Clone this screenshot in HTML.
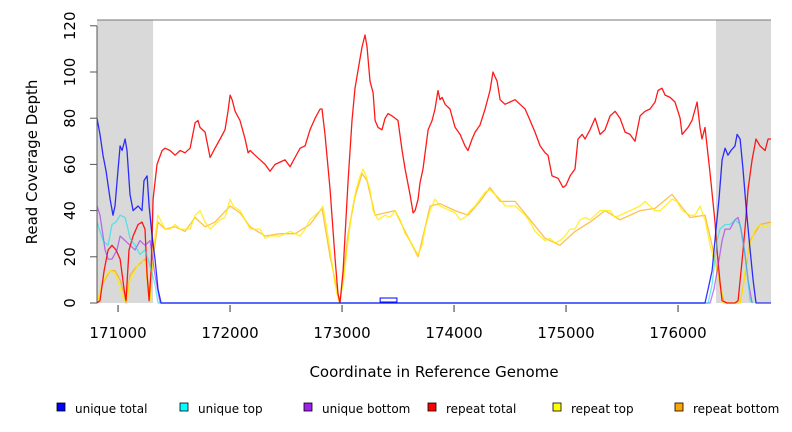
<!DOCTYPE html>
<html><head><meta charset="utf-8"><style>
html,body{margin:0;padding:0;background:#fff;}
svg{display:block;font-family:"DejaVu Sans","Liberation Sans",sans-serif;}
</style></head><body>
<svg id="chart" width="792" height="432" viewBox="0 0 792 432">
<g id="plot"></g>
<g id="axes"></g>
<text x="434" y="377" font-size="15" text-anchor="middle" fill="#000">Coordinate in Reference Genome</text>
<text x="0" y="0" font-size="15" text-anchor="middle" fill="#000" transform="translate(37,162) rotate(-90)">Read Coverage Depth</text>
<g id="legend"></g>
</svg>
<script>
const NS="http://www.w3.org/2000/svg";
const xTicks=[171000,172000,173000,174000,175000,176000];
const yTicks=[0,20,40,60,80,100,120];
const shadedRegions=[[170812,171313],[176339,176830]];
const legendLabels=["unique total","unique top","unique bottom","repeat total","repeat top","repeat bottom"];
const legendColors=["#0000ff","#00ffff","#a020f0","#ff0000","#ffff00","#ffa500"];

const blueX=[170812,170839,170866,170893,170929,170955,170973,171000,171018,171036,171063,171080,171107,171134,171179,171214,171232,171259,171277,171304,171330,171357,171384,176241,176268,176304,176339,176366,176393,176420,176446,176473,176509,176527,176554,176580,176607,176643,176670,176696,176830];
const blueY=[80,73,64,57,45,38,42,58,68,66,71,66,47,40,42,40,53,55,42,29,19,6,0,0,6,14,32,45,62,67,64,66,68,73,71,58,42,23,10,0,0];

const cyanX=[170812,170866,170911,170946,170982,171018,171063,171089,171107,171152,171196,171241,171286,171330,171357,176268,176304,176348,176375,176420,176464,176509,176554,176580,176616,176643,176670];
const cyanY=[35,27,25,34,35,38,37,32,28,25,21,23,16,8,0,0,8,27,32,34,34,36,34,27,14,1,0];

const purpleX=[170812,170839,170884,170911,170946,170991,171018,171063,171107,171152,171196,171241,171286,171330,171375,176286,176321,176357,176393,176420,176464,176509,176536,176562,176598,176625,176661];
const purpleY=[42,38,23,19,19,23,29,27,25,23,27,25,27,12,0,0,6,16,27,32,32,36,37,32,21,10,0];

const redX=[170812,170839,170875,170911,170946,170982,171018,171054,171071,171098,171134,171179,171214,171241,171259,171277,171295,171313,171348,171393,171420,171464,171509,171554,171598,171643,171688,171714,171732,171777,171822,171866,171911,171955,171982,172000,172018,172045,172089,172134,172161,172179,172223,172268,172313,172357,172402,172447,172491,172536,172580,172625,172670,172714,172759,172804,172821,172848,172893,172938,172964,172982,173009,173054,173089,173116,173161,173179,173205,173223,173250,173277,173295,173321,173357,173384,173411,173446,173500,173536,173563,173607,173634,173652,173679,173696,173723,173768,173804,173830,173857,173875,173893,173920,173964,174009,174054,174098,174125,174161,174188,174232,174277,174321,174348,174366,174384,174411,174455,174500,174545,174589,174634,174679,174723,174768,174813,174839,174875,174929,174973,175000,175036,175080,175107,175143,175170,175214,175259,175304,175348,175393,175438,175482,175527,175571,175616,175661,175705,175750,175795,175821,175857,175884,175929,175973,176018,176036,176089,176125,176170,176196,176214,176241,176286,176330,176348,176375,176393,176438,176509,176536,176571,176598,176625,176661,176696,176732,176777,176804,176830];
const redY=[0,1,14,23,25,23,19,6,1,23,29,34,35,32,12,1,14,45,60,66,67,66,64,66,65,67,78,79,76,74,63,67,71,75,83,90,88,83,79,71,65,66,64,62,60,57,60,61,62,59,63,67,68,75,80,84,84,73,49,19,4,0,14,53,79,93,106,111,116,111,96,91,79,76,75,80,82,81,79,66,58,47,39,40,45,52,58,75,79,84,92,88,89,86,84,76,73,68,66,71,74,77,84,92,100,98,96,88,86,87,88,86,84,79,74,68,65,64,55,54,50,51,55,58,71,73,71,75,80,73,75,81,83,80,74,73,70,81,83,84,87,92,93,90,89,87,80,73,76,79,87,76,71,76,56,35,23,9,1,0,0,1,18,32,49,62,71,68,66,71,71];

const yellowX=[170812,170857,170893,170929,170973,171009,171054,171080,171107,171152,171196,171241,171268,171286,171313,171357,171420,171464,171509,171554,171598,171643,171688,171732,171777,171822,171866,171911,171955,172000,172027,172089,172134,172179,172223,172268,172313,172357,172447,172536,172625,172670,172714,172759,172804,172830,172857,172893,172938,172973,173009,173054,173089,173125,173161,173188,173214,173250,173277,173321,173384,173429,173473,173518,173563,173607,173652,173679,173714,173750,173786,173830,173875,173920,173964,174009,174054,174098,174143,174188,174232,174277,174321,174366,174411,174455,174500,174545,174589,174634,174679,174723,174768,174813,174857,174902,174946,174991,175036,175080,175125,175170,175214,175259,175304,175348,175393,175438,175482,175527,175571,175616,175661,175705,175750,175795,175839,175884,175946,175991,176036,176107,176152,176196,176241,176286,176330,176357,176384,176402,176554,176580,176607,176643,176688,176732,176777,176830];
const yellowY=[0,8,12,14,13,8,1,1,10,14,18,18,6,1,23,38,32,32,34,32,32,32,38,40,35,32,34,36,37,45,42,40,36,32,32,32,28,29,29,31,29,32,36,38,40,42,34,23,8,0,8,27,40,49,55,58,55,49,40,36,38,37,40,36,30,27,23,21,25,34,40,45,42,41,40,39,36,37,40,42,45,48,49,47,45,42,42,42,40,38,35,31,29,27,28,26,27,29,32,32,36,37,36,38,40,40,40,37,38,39,40,41,42,44,42,40,40,42,45,44,40,38,38,42,36,25,17,12,8,0,0,6,17,25,32,34,33,34];

const orangeX=[170812,170857,170893,170929,170973,171018,171054,171071,171107,171152,171196,171241,171268,171286,171313,171357,171420,171509,171598,171688,171777,171866,172000,172089,172179,172313,172447,172580,172714,172821,172893,172982,173054,173116,173179,173223,173295,173384,173473,173563,173679,173786,173875,174009,174125,174232,174321,174411,174545,174679,174813,174946,175080,175214,175348,175482,175661,175795,175946,176107,176241,176304,176375,176411,176554,176598,176643,176732,176830];
const orangeY=[0,8,11,14,14,10,4,0,12,15,17,19,8,3,19,35,32,33,31,37,33,35,42,39,33,29,30,30,34,41,20,0,30,46,56,53,38,39,40,31,20,42,43,40,38,44,50,44,44,36,28,25,31,35,40,36,40,41,47,37,38,25,8,0,0,12,27,34,35];

const X0=170812,X1=176830,PX0=97,PX1=771;
const Y0=0,PY0=303,PYSCALE=2.31;
function sx(c){return PX0+(c-X0)*(PX1-PX0)/(X1-X0);}
function sy(v){return PY0-(v-Y0)*PYSCALE;}

const plotG=document.getElementById('plot');
const axesG=document.getElementById('axes');
function mk(tag,attrs,parent){const e=document.createElementNS(NS,tag);for(const k in attrs)e.setAttribute(k,attrs[k]);parent.appendChild(e);return e;}

shadedRegions.forEach((r,i)=>{
  const el=mk('rect',{x:sx(r[0]),y:20,width:sx(r[1])-sx(r[0]),height:PY0-20,fill:'#d9d9d9'},plotG);
  
  
});

function series(xs,ys,color,name,op){
  const pts=[];
  for(let i=0;i<xs.length;i++){ if(ys[i]===undefined) continue; pts.push(sx(xs[i]).toFixed(1)+','+sy(ys[i]).toFixed(1)); }
  const el=mk('polyline',{points:pts.join(' '),fill:'none',stroke:color,'stroke-width':1.3,'stroke-opacity':op,'stroke-linejoin':'round'},plotG);
  
  
}
series(orangeX,orangeY,'#ffa500','series-repeat-bottom',0.7);
series(yellowX,yellowY,'#ffee00','series-repeat-top',0.8);
series(redX,redY,'#ff0000','series-repeat-total',0.9);
series(purpleX,purpleY,'#a020f0','series-unique-bottom',0.6);
series(cyanX,cyanY,'#00e5ee','series-unique-top',0.6);
series(blueX,blueY,'#0000ff','series-unique-total',0.8);

const markerBox=mk('rect',{x:sx(173340),y:298,width:sx(173490)-sx(173340),height:4,fill:'none',stroke:'#0000ff','stroke-width':1},plotG);



const topBorder=mk('line',{x1:PX0,y1:20,x2:PX1,y2:20,stroke:'#777','stroke-width':1},axesG);


const yAxisLine=mk('line',{x1:PX0,y1:sy(120),x2:PX0,y2:PY0,stroke:'#555','stroke-width':1},axesG);



yTicks.forEach(v=>{
  const t=mk('line',{x1:90,y1:sy(v),x2:PX0,y2:sy(v),stroke:'#555','stroke-width':1},axesG);
  
  
  const l=mk('text',{'font-size':15,'text-anchor':'middle',fill:'#000',transform:`translate(75,${sy(v)}) rotate(-90)`},axesG);
  l.textContent=v;
  
  
});
xTicks.forEach(v=>{
  const t=mk('line',{x1:sx(v),y1:305,x2:sx(v),y2:312,stroke:'#777','stroke-width':1.5},axesG);
  
  
  const l=mk('text',{x:sx(v),y:338,'font-size':15,'text-anchor':'middle',fill:'#000'},axesG);
  l.textContent=v;
  
  
});

const legendG=document.getElementById('legend');
const legX=[57,180,304,428,553,675];
legendLabels.forEach((lab,i)=>{
  const g=mk('g',{},legendG);
  
  
  const r=mk('rect',{x:legX[i],y:403,width:8,height:8,fill:legendColors[i],stroke:'#000','stroke-width':0.8},g);
  
  
  const t=mk('text',{x:legX[i]+18,y:413,'font-size':12,fill:'#000'},g);
  t.textContent=lab;
  
  
});
</script>
</body></html>
